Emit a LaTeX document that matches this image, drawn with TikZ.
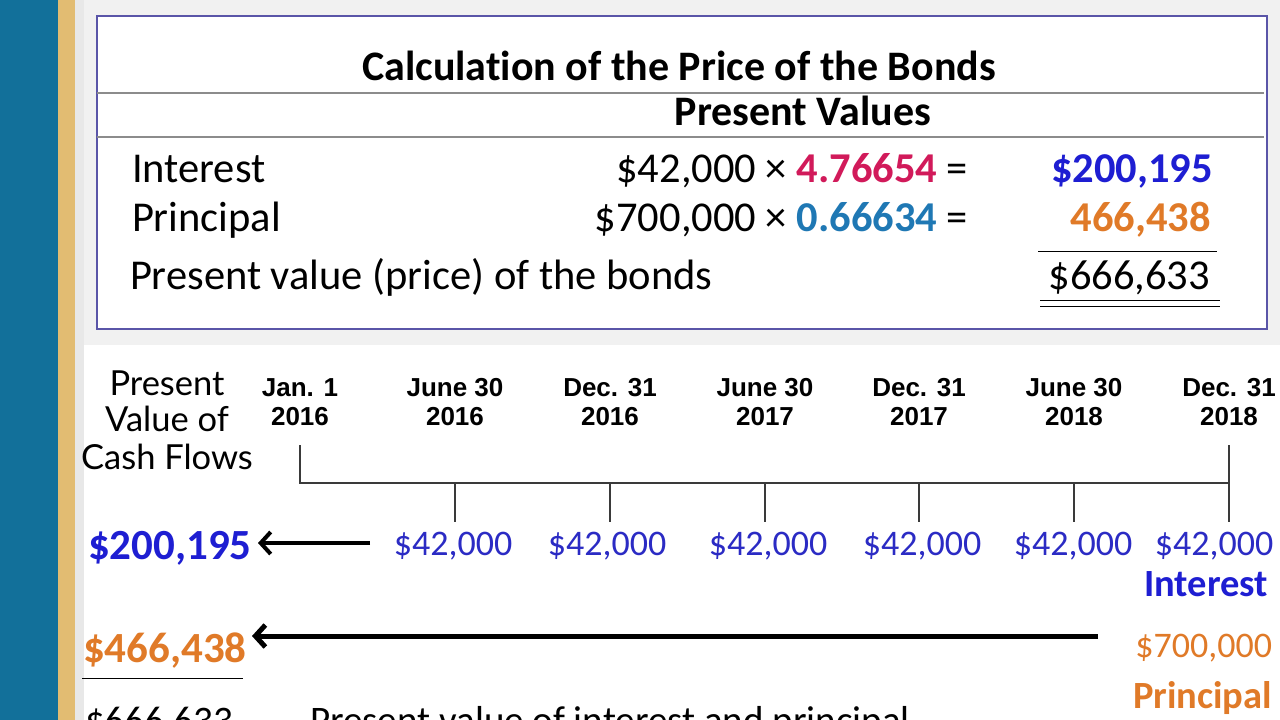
\documentclass[tikz,border=0pt]{standalone}
\usepackage{fontspec}
\setmainfont[Ligatures=CommonOff]{Carlito}
\newfontfamily\latofont{Lato}
\newfontfamily\helvfont{Liberation Sans}
\usetikzlibrary{arrows.meta}
\definecolor{bandblue}{HTML}{12709A}
\definecolor{bandtan}{HTML}{E2BC72}
\definecolor{bandgrey}{HTML}{E8E8E8}
\definecolor{boxline}{HTML}{5A55A8}
\definecolor{rule}{HTML}{8C8C8C}
\definecolor{tline}{HTML}{3A3A3A}
\definecolor{vblue}{HTML}{1E1ED2}
\definecolor{lblue}{HTML}{2B2BC4}
\definecolor{vorange}{HTML}{E07A28}
\definecolor{vmagenta}{HTML}{D11A5A}
\definecolor{vteal}{HTML}{1F78B4}
\begin{document}
\begin{tikzpicture}[x=1pt,y=-1pt,
  txt/.style={inner sep=0pt,outer sep=0pt},
  tbl/.style={txt,font=\fontsize{42.5}{50}\selectfont},
  tblbold/.style={txt,font=\fontsize{42.5}{50}\selectfont\bfseries},
  head/.style={txt,font=\fontsize{42}{50}\selectfont\bfseries},
  datelbl/.style={txt,font=\fontsize{26}{31}\selectfont\helvfont\bfseries},
  pvlbl/.style={txt,font=\fontsize{34.5}{40}\selectfont\latofont},
  amt/.style={txt,font=\fontsize{36}{43}\selectfont,text=lblue},
  bigamt/.style={txt,font=\fontsize{43}{50}\selectfont\bfseries},
  tag/.style={txt,font=\fontsize{38.5}{46}\selectfont\bfseries},
  foot/.style={txt,font=\fontsize{39}{46}\selectfont},
  axis/.style={draw=tline,line width=2.5pt},
  bigarrow/.style={draw=black,-{Straight Barb[length=10pt,width=22pt]}}
]
\useasboundingbox (0,0) rectangle (1280,720);
\clip (0,0) rectangle (1280,720);
% background bands
\fill[white] (0,0) rectangle (1280,720);
\fill[bandgrey!60] (75,0) rectangle (1280,345);
\fill[white] (84,345) rectangle (1280,720);
\fill[bandgrey] (75,0) rectangle (84,720);
\fill[bandblue] (0,0) rectangle (58,720);
\fill[bandtan] (58,0) rectangle (75,720);
% table box
\draw[boxline,line width=1.2pt,fill=white] (97,16) rectangle (1267,329);
\draw[rule,line width=1.3pt] (97,93) -- (1264,93);
\draw[rule,line width=1.3pt] (97,137) -- (1264,137);
\node[head,anchor=base] (title) at (679,80) {Calculation of the Price of the Bonds};
\node[head,anchor=base] (pvhead) at (803,125) {Present Values};
\node[tbl,anchor=base west] (intlbl) at (132,182) {Interest};
\node[tbl,anchor=base east] (intcalc) at (968,182) {\$42,000 × \textbf{\textcolor{vmagenta}{4.76654}} =};
\node[tblbold,anchor=base east,text=vblue] (intval) at (1213,182) {\$200,195};
\node[tbl,anchor=base west] (prinlbl) at (132,231) {Principal};
\node[tbl,anchor=base east] (prinCalc) at (968,231) {\$700,000 × \textbf{\textcolor{vteal}{0.66634}} =};
\node[tblbold,anchor=base east,text=vorange] (prinval) at (1211,231) {466,438};
\draw[black,line width=1pt] (1038,251) -- (1217,251);
\node[tbl,anchor=base west] (pvlbl) at (130,289) {Present value (price) of the bonds};
\node[tbl,anchor=base east] (pvval) at (1210,289) {\$666,633};
\draw[black,line width=1pt] (1040,300) -- (1220,300);
\draw[black,line width=1pt] (1040,306) -- (1220,306);
% timeline heading
\node[pvlbl,anchor=base] (pv1) at (167,395) {Present};
\node[pvlbl,anchor=base] (pv2) at (167,431) {Value of};
\node[pvlbl,anchor=base] (pv3) at (167,469) {Cash Flows};
\foreach \x/\a/\b [count=\i] in {300/Jan. 1/2016,455/June 30/2016,610/Dec. 31/2016,765/June 30/2017,919/Dec. 31/2017,1074/June 30/2018,1229/Dec. 31/2018}{
  \node[datelbl,anchor=base] (d\i a) at (\x,396) {\a};
  \node[datelbl,anchor=base] (d\i b) at (\x,425) {\b};
}
% timeline axis
\coordinate (t0top) at (300,445);
\coordinate (t0) at (300,483);
\coordinate (t6top) at (1229,445);
\coordinate (t6) at (1229,483);
\coordinate (t6bot) at (1229,522);
\draw[axis] (t0top) -- (t0) -- (t6) -- (t6top);
\draw[axis] (t6) -- (t6bot);
\foreach \x [count=\i] in {455,610,765,919,1074}{
  \coordinate (t\i) at (\x,483);
  \coordinate (t\i bot) at (\x,522);
  \draw[axis] (t\i) -- (t\i bot);
}
% interest amounts
\foreach \x [count=\i] in {453,607,768,922,1073,1214}{
  \node[amt,anchor=base] (a\i) at (\x,555) {\$42,000};
}
\node[bigamt,anchor=base west,text=vblue] (pvint) at (88,559) {\$200,195};
\coordinate (intstart) at (370,543);
\coordinate (intend) at (258,543);
\draw[bigarrow,line width=4pt] (intstart) -- (intend);
\node[tag,anchor=base east,text=vblue] (inttag) at (1268,596) {Interest};
% principal
\node[bigamt,anchor=base west,text=vorange] (pvprin) at (83,662) {\$466,438};
\coordinate (prinstart) at (1098,636);
\coordinate (prinend) at (252,636);
\draw[bigarrow,line width=5pt] (prinstart) -- (prinend);
\node[amt,anchor=base east,text=vorange] (prinamt) at (1272,657) {\$700,000};
\node[tag,anchor=base east,text=vorange] (printag) at (1272,708) {Principal};
\draw[black,line width=1pt] (82,678) -- (243,678);
\node[foot,anchor=base west] (total) at (85,733) {\$666,633};
\node[foot,anchor=base west] (totallbl) at (310,733) {Present value of interest and principal};
\end{tikzpicture}
\end{document}
